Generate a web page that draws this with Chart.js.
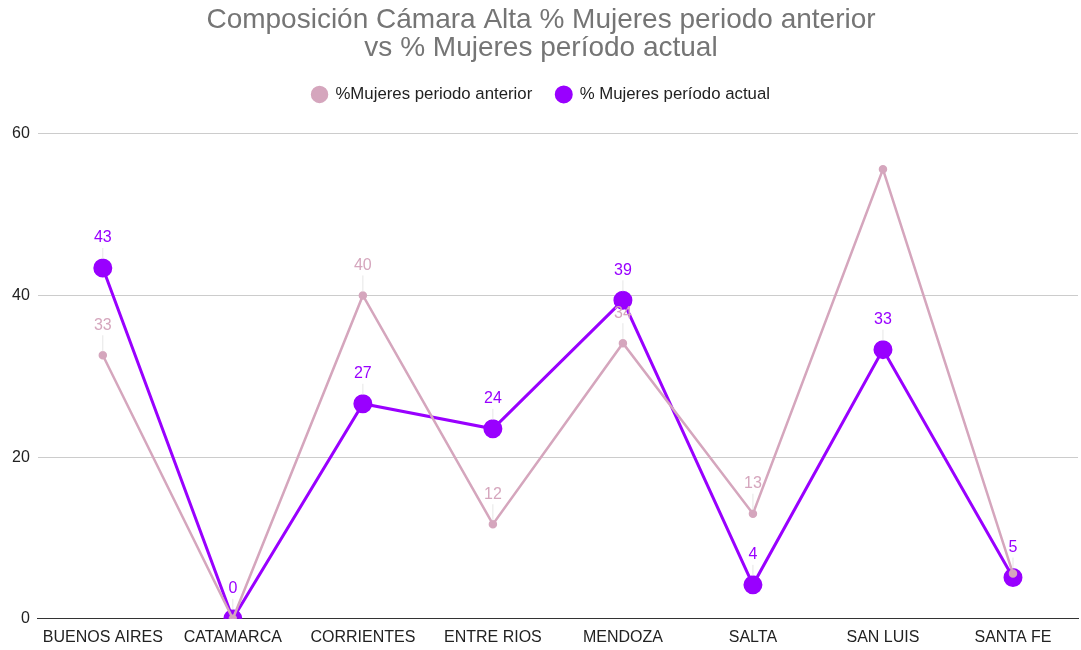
<!DOCTYPE html>
<html>
<head>
<meta charset="utf-8">
<script src="https://cdn.jsdelivr.net/npm/chart.js@4/dist/chart.umd.min.js"></script>
<style>
  html, body { margin: 0; padding: 0; background: #fff; }
  #wrap { width: 1081px; height: 650px; }
</style>
</head>
<body>
<div id="wrap"><canvas id="grafica" width="1081" height="650"></canvas></div>
<script>
const provincias = ["BUENOS AIRES", "CATAMARCA", "CORRIENTES", "ENTRE RIOS", "MENDOZA", "SALTA", "SAN LUIS", "SANTA FE"];
const mujeresAnterior = [32.6, 0, 40, 11.7, 34.1, 13, 55.6, 5.6];
const mujeresActual = [43.4, 0, 26.6, 23.5, 39.4, 4.2, 33.3, 5.1];
// etiquetas que no se muestran (se pisan con otras)
const ocultarAnterior = [1, 6, 7];
const ticksY = [0, 20, 40, 60];

const rosa = "#d5a6bd";
const violeta = "#9900ff";
const fuente = "'Liberation Sans', Arial, sans-serif";

// etiquetas de valor arriba de cada punto con una rayita
const etiquetas = {
  id: "etiquetas",
  afterDatasetsDraw(chart) {
    const ctx = chart.ctx;
    chart.data.datasets.forEach((ds, i) => {
      const meta = chart.getDatasetMeta(i);
      meta.data.forEach((p, j) => {
        if (ds.ocultar && ds.ocultar.includes(j)) return;
        const v = Math.round(ds.data[j]);
        ctx.save();
        ctx.strokeStyle = "#e6e6e6";
        ctx.lineWidth = 1;
        ctx.beginPath();
        ctx.moveTo(p.x, p.y - ds.pointRadius - 1);
        ctx.lineTo(p.x, p.y - 20);
        ctx.stroke();
        ctx.fillStyle = ds.borderColor;
        ctx.font = "16px " + fuente;
        ctx.textAlign = "center";
        ctx.textBaseline = "middle";
        ctx.fillText(String(v), p.x, p.y - 30);
        ctx.restore();
      });
    });
  }
};

// mas espacio entre la leyenda y el grafico
const espacioLeyenda = {
  id: "espacioLeyenda",
  beforeInit(chart) {
    const fitOriginal = chart.legend.fit;
    chart.legend.fit = function () {
      fitOriginal.bind(chart.legend)();
      this.height += 21;
    };
  }
};

new Chart(document.getElementById("grafica").getContext("2d"), {
  type: "line",
  data: {
    labels: provincias,
    datasets: [
      {
        label: "%Mujeres periodo anterior",
        data: mujeresAnterior,
        borderColor: rosa,
        backgroundColor: rosa,
        borderWidth: 2.5,
        pointRadius: 3,
        pointHoverRadius: 3,
        ocultar: ocultarAnterior
      },
      {
        label: "% Mujeres período actual",
        data: mujeresActual,
        borderColor: violeta,
        backgroundColor: violeta,
        borderWidth: 3,
        pointRadius: 8,
        pointHoverRadius: 8,
        ocultar: []
      }
    ]
  },
  options: {
    responsive: false,
    animation: false,
    layout: { autoPadding: false, padding: { left: 4, right: 3, top: 0, bottom: 2 } },
    plugins: {
      title: {
        display: true,
        text: ["Composición Cámara Alta % Mujeres periodo anterior", "vs % Mujeres período actual"],
        color: "#757575",
        font: { family: fuente, size: 28, weight: "normal", lineHeight: 1.0 },
        padding: { top: 6, bottom: 0 }
      },
      legend: {
        position: "top",
        labels: {
          usePointStyle: true,
          pointStyle: "circle",
          boxWidth: 15,
          boxHeight: 10.6,
          color: "#222",
          font: { family: fuente, size: 16.8 },
          padding: 24
        }
      },
      tooltip: { enabled: false }
    },
    scales: {
      x: {
        offset: true,
        grid: { display: false },
        border: { color: "#333", width: 1 },
        ticks: { color: "#222", font: { family: fuente, size: 16 }, maxRotation: 0, padding: 1 }
      },
      y: {
        min: 0,
        max: 60,
        afterBuildTicks: axis => { axis.ticks = ticksY.map(v => ({ value: v })); },
        grid: {
          color: c => (c.tick.value === 0 ? "#333" : "#cccccc"),
          drawTicks: false
        },
        border: { display: false },
        ticks: { color: "#222", font: { family: fuente, size: 16 }, padding: 8 }
      }
    }
  },
  plugins: [etiquetas, espacioLeyenda]
});
</script>
</body>
</html>
